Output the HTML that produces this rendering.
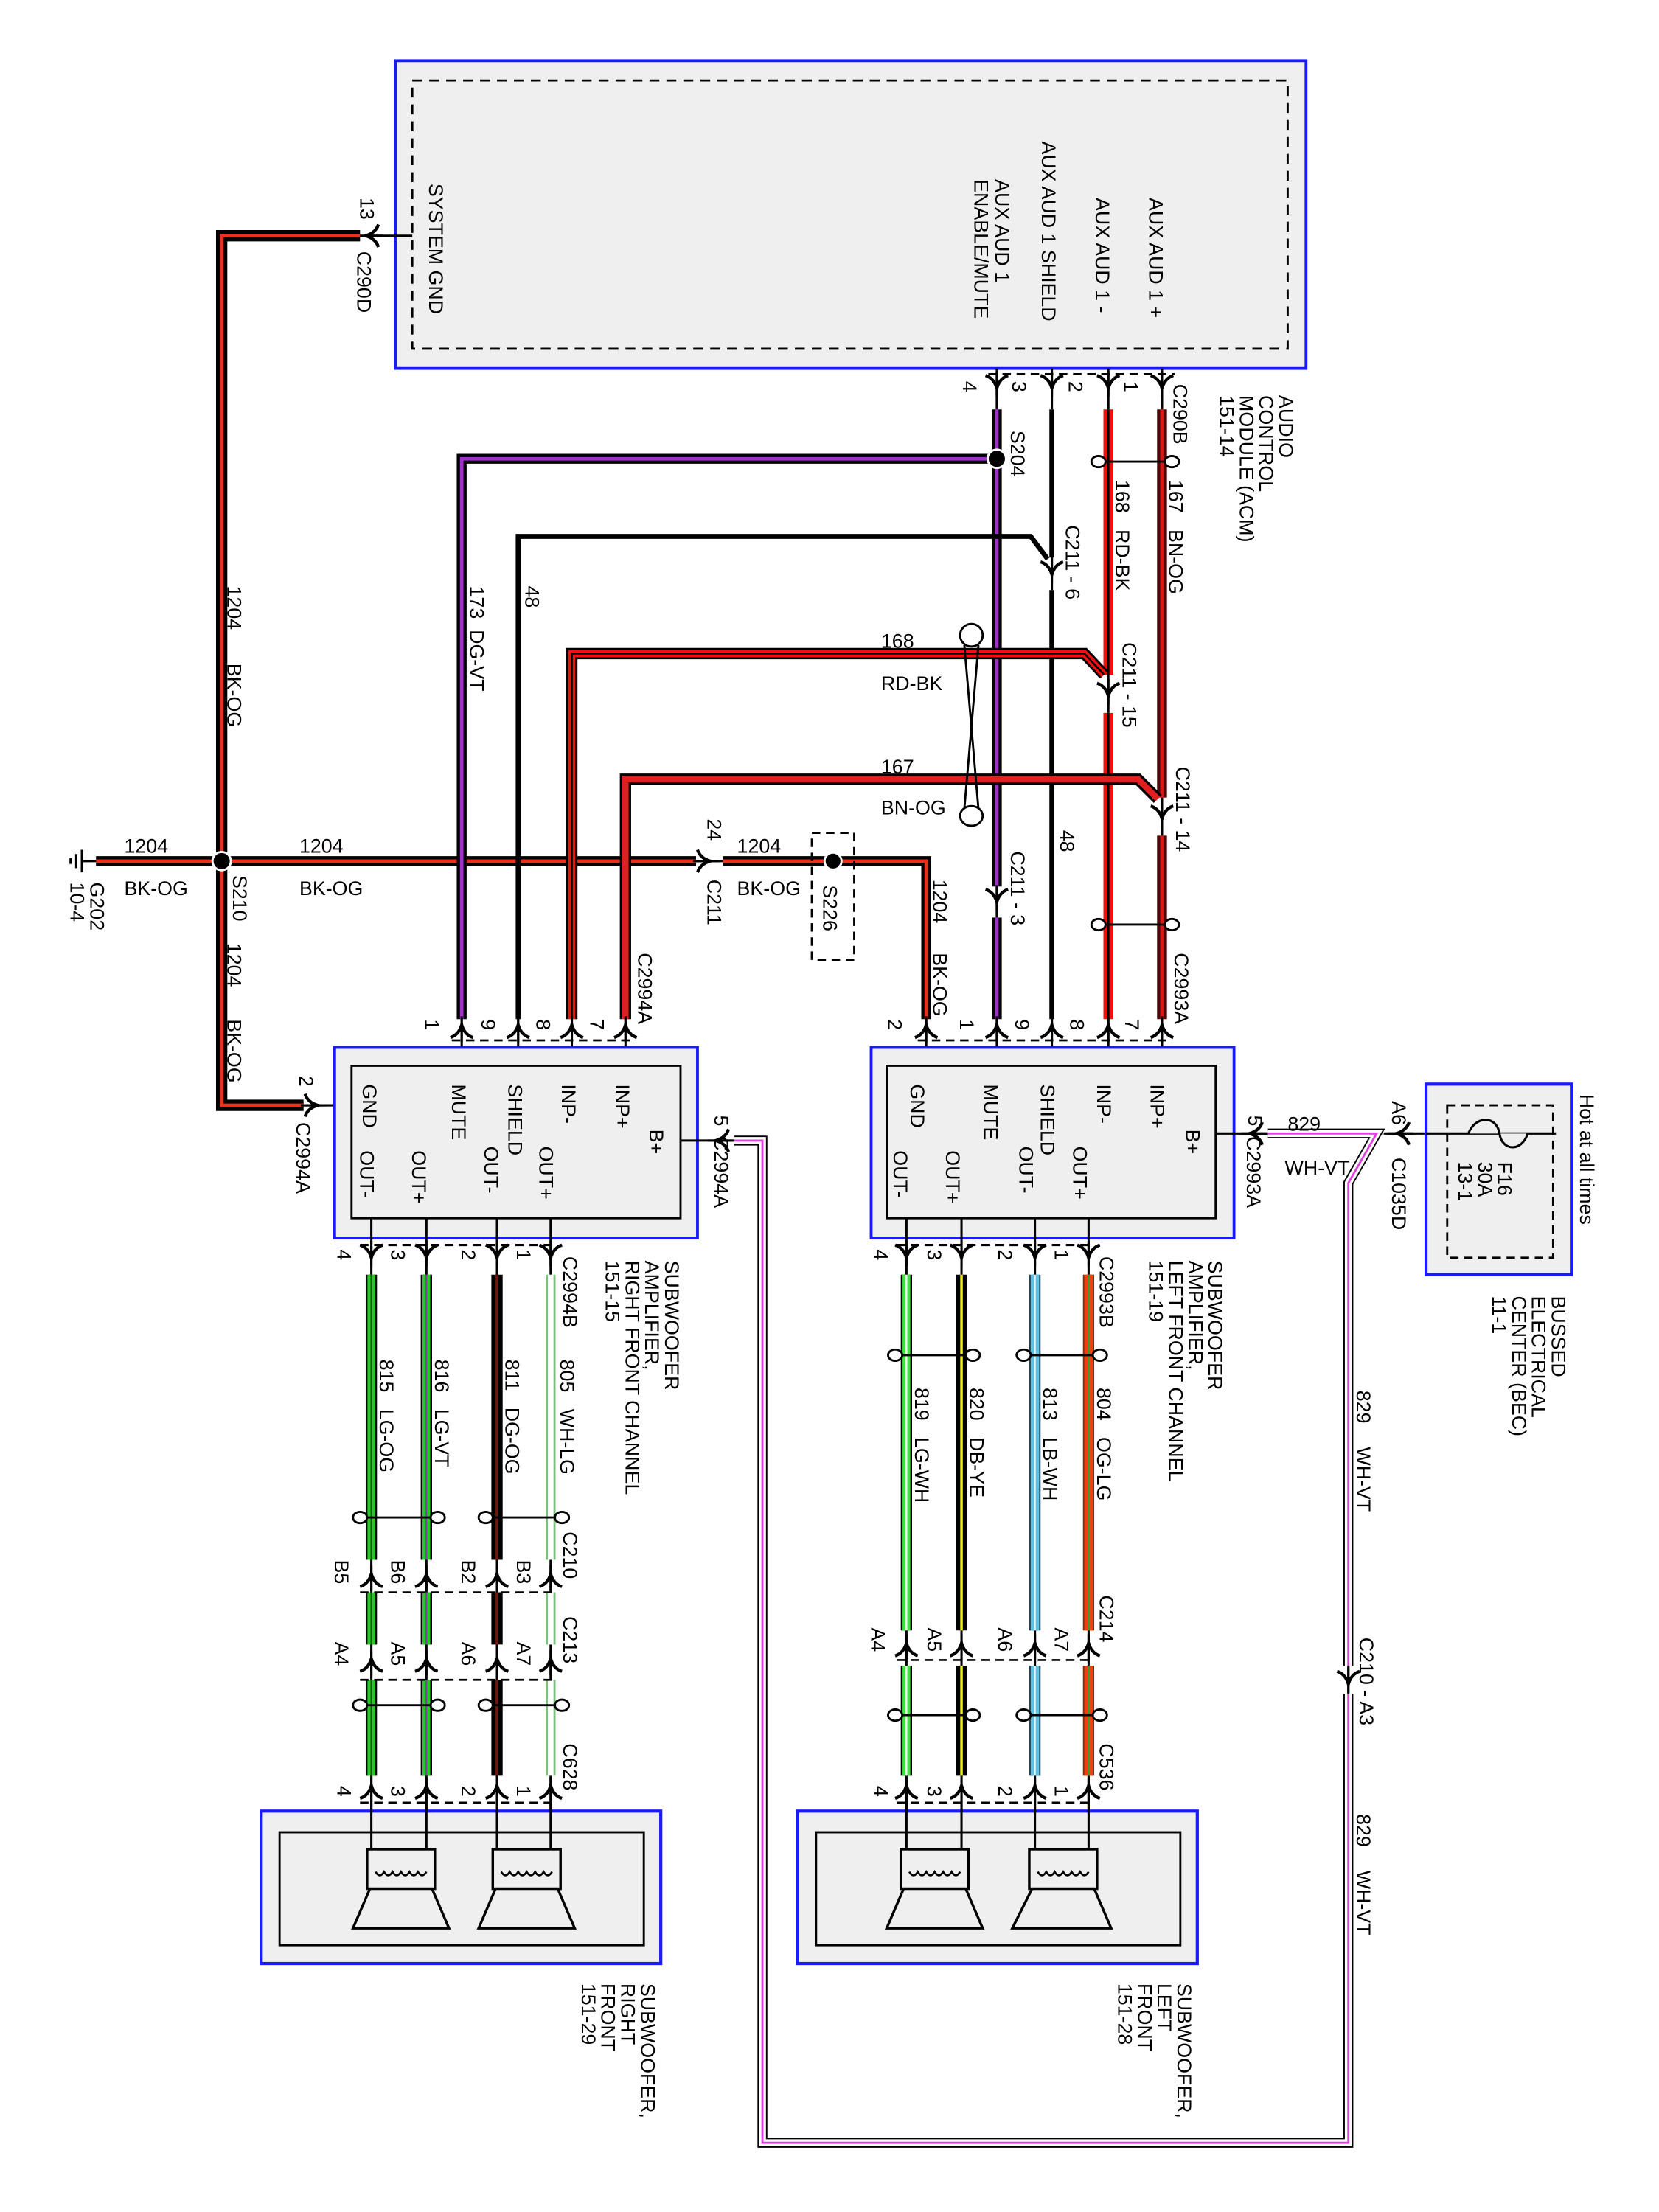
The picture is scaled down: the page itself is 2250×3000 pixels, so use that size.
<!DOCTYPE html>
<html><head><meta charset="utf-8"><style>
html,body{margin:0;padding:0;background:#fff}
svg{display:block}
text{font-family:"Liberation Sans",Arial,sans-serif;font-size:14px;fill:#000;white-space:pre}
</style></head><body>
<svg width="2250" height="3000" viewBox="0 0 1175 1567" preserveAspectRatio="none" xmlns="http://www.w3.org/2000/svg">
<defs>
<symbol id="cd" overflow="visible"><path d="M-8,-6 Q-2,-4 0,3 Q2,-4 8,-6" fill="none" stroke="#000" stroke-width="2.2"/><line x1="0" y1="-9" x2="0" y2="9" stroke="#000" stroke-width="1.6"/></symbol>
<symbol id="cu" overflow="visible"><path d="M-8,6 Q-2,4 0,-3 Q2,4 8,6" fill="none" stroke="#000" stroke-width="2.2"/><line x1="0" y1="-9" x2="0" y2="9" stroke="#000" stroke-width="1.6"/></symbol>
<symbol id="cl" overflow="visible"><path d="M6,-8 Q4,-2 -3,0 Q4,2 6,8" fill="none" stroke="#000" stroke-width="2.2"/><line x1="-9" y1="0" x2="9" y2="0" stroke="#000" stroke-width="1.6"/></symbol>
<symbol id="cr" overflow="visible"><path d="M-6,-8 Q-4,-2 3,0 Q-4,2 -6,8" fill="none" stroke="#000" stroke-width="2.2"/><line x1="-9" y1="0" x2="9" y2="0" stroke="#000" stroke-width="1.6"/></symbol>
</defs>

<!-- ACM -->
<rect x="280" y="43" width="645" height="218" fill="#efefef" stroke="#1a1aff" stroke-width="2"/>
<rect x="292" y="57" width="620" height="190" fill="none" stroke="#000" stroke-width="1.5" stroke-dasharray="7,5"/>
<g transform="translate(304,130) rotate(90)"><text>SYSTEM GND</text></g>
<g transform="translate(814,140) rotate(90)"><text>AUX AUD 1 +</text></g>
<g transform="translate(776,140) rotate(90)"><text>AUX AUD 1 -</text></g>
<g transform="translate(738,100) rotate(90)"><text>AUX AUD 1 SHIELD</text></g>
<g transform="translate(705,127) rotate(90)"><text>AUX AUD 1</text></g>
<g transform="translate(690,127) rotate(90)"><text>ENABLE/MUTE</text></g>
<g transform="translate(906,280) rotate(90)"><text>AUDIO</text></g>
<g transform="translate(892,280) rotate(90)"><text>CONTROL</text></g>
<g transform="translate(878,280) rotate(90)"><text>MODULE (ACM)</text></g>
<g transform="translate(864,280) rotate(90)"><text>151-14</text></g>

<line x1="262" y1="167" x2="292" y2="167" stroke="#000" stroke-width="1.6"/>
<use href="#cl" x="262" y="167"/>
<g transform="translate(255,140) rotate(90)"><text>13</text></g>
<g transform="translate(253,178) rotate(90)"><text>C290D</text></g>

<g fill="none" stroke-linejoin="miter">
<path d="M255,167 H157 V783 H215" stroke="#000" stroke-width="8"/>
<path d="M255,167 H157 V783 H215" stroke="#e8321e" stroke-width="2.5"/>
<path d="M68,610 H493" stroke="#000" stroke-width="7"/>
<path d="M68,610 H493" stroke="#e8321e" stroke-width="2.5"/>
<path d="M512,610 H656 V722" stroke="#000" stroke-width="7"/>
<path d="M512,610 H656 V722" stroke="#e8321e" stroke-width="2.5"/>
</g>
<line x1="493" y1="610" x2="512" y2="610" stroke="#000" stroke-width="1.6"/>
<use href="#cr" x="500" y="610"/>
<circle cx="157" cy="610" r="6.5" fill="#000" stroke="#fff" stroke-width="1.5"/>
<circle cx="590" cy="610" r="6" fill="#000" stroke="#fff" stroke-width="1.5"/>
<rect x="575" y="590" width="30" height="90" fill="none" stroke="#000" stroke-width="1.5" stroke-dasharray="6,4"/>
<line x1="58" y1="610" x2="68" y2="610" stroke="#000" stroke-width="1.6"/>
<line x1="58" y1="602" x2="58" y2="618" stroke="#000" stroke-width="1.6"/>
<line x1="54" y1="605" x2="54" y2="615" stroke="#000" stroke-width="1.6"/>
<line x1="50" y1="608" x2="50" y2="612" stroke="#000" stroke-width="1.6"/>
<g transform="translate(64,625) rotate(90)"><text>G202</text></g>
<g transform="translate(50,625) rotate(90)"><text>10-4</text></g>
<text x="88" y="604">1204</text><text x="88" y="634">BK-OG</text>
<text x="212" y="604">1204</text><text x="212" y="634">BK-OG</text>
<text x="522" y="604">1204</text><text x="522" y="634">BK-OG</text>
<g transform="translate(165,620) rotate(90)"><text>S210</text></g>
<g transform="translate(161,415) rotate(90)"><text>1204</text></g>
<g transform="translate(161,470) rotate(90)"><text>BK-OG</text></g>
<g transform="translate(161,668) rotate(90)"><text>1204</text></g>
<g transform="translate(161,722) rotate(90)"><text>BK-OG</text></g>
<g transform="translate(501,580) rotate(90)"><text>24</text></g>
<g transform="translate(501,623) rotate(90)"><text>C211</text></g>
<g transform="translate(583,627) rotate(90)"><text>S226</text></g>
<g transform="translate(661,623) rotate(90)"><text>1204</text></g>
<g transform="translate(661,675) rotate(90)"><text>BK-OG</text></g>

<line x1="700" y1="265" x2="832" y2="265" stroke="#000" stroke-width="1.4" stroke-dasharray="6,4"/>
<g stroke="#000" stroke-width="1.6"><line x1="706" y1="261" x2="706" y2="290"/><line x1="745" y1="261" x2="745" y2="290"/><line x1="785" y1="261" x2="785" y2="290"/><line x1="823" y1="261" x2="823" y2="290"/></g>
<use href="#cd" x="706" y="272"/><use href="#cd" x="745" y="272"/><use href="#cd" x="785" y="272"/><use href="#cd" x="823" y="272"/>
<g transform="translate(682,270) rotate(90)"><text>4</text></g>
<g transform="translate(717,270) rotate(90)"><text>3</text></g>
<g transform="translate(757,270) rotate(90)"><text>2</text></g>
<g transform="translate(796,270) rotate(90)"><text>1</text></g>
<g transform="translate(831,272) rotate(90)"><text>C290B</text></g>

<g fill="none">
<path d="M706,290 V722" stroke="#000" stroke-width="7"/>
<path d="M706,290 V722" stroke="#a030c8" stroke-width="2.5"/>
<path d="M700,325 H327 V722" stroke="#000" stroke-width="7"/>
<path d="M700,325 H327 V722" stroke="#a030c8" stroke-width="2.5"/>
</g>
<circle cx="706" cy="325" r="6.5" fill="#000" stroke="#fff" stroke-width="1.5"/>
<g transform="translate(716,305) rotate(90)"><text>S204</text></g>
<g transform="translate(333,415) rotate(90)"><text>173  DG-VT</text></g>
<rect x="700" y="628" width="12" height="22" fill="#fff"/>
<line x1="706" y1="628" x2="706" y2="650" stroke="#000" stroke-width="1.6"/>
<use href="#cd" x="706" y="636"/>
<g transform="translate(716,603) rotate(90)"><text>C211 - 3</text></g>

<g fill="none" stroke="#000" stroke-width="3.5">
<path d="M745,290 V395"/><path d="M745,418 V722"/>
<path d="M742,396 L730,380 H367 V722"/>
</g>
<line x1="745" y1="395" x2="745" y2="418" stroke="#000" stroke-width="1.6"/>
<use href="#cd" x="745" y="404"/>
<g transform="translate(755,372) rotate(90)"><text>C211 - 6</text></g>
<g transform="translate(751,588) rotate(90)"><text>48</text></g>
<g transform="translate(372,415) rotate(90)"><text>48</text></g>

<g fill="none">
<path d="M785,290 V478" stroke="#f01010" stroke-width="7"/>
<path d="M785,290 V478" stroke="#000" stroke-width="1.5"/>
<path d="M785,505 V722" stroke="#f01010" stroke-width="7"/>
<path d="M785,505 V722" stroke="#000" stroke-width="1.5"/>
<path d="M782,478 L768,463 H405 V722" stroke="#000" stroke-width="8"/>
<path d="M782,478 L768,463 H405 V722" stroke="#f01010" stroke-width="5"/>
<path d="M782,478 L768,463 H405 V722" stroke="#000" stroke-width="1.3"/>
</g>
<line x1="785" y1="478" x2="785" y2="505" stroke="#000" stroke-width="1.6"/>
<use href="#cd" x="785" y="490"/>
<g transform="translate(795,455) rotate(90)"><text>C211 - 15</text></g>
<g transform="translate(790,340) rotate(90)"><text>168   RD-BK</text></g>
<text x="624" y="459">168</text><text x="624" y="489">RD-BK</text>

<g fill="none">
<path d="M823,290 V565" stroke="#4a0808" stroke-width="7"/>
<path d="M823,290 V565" stroke="#d81818" stroke-width="2.5"/>
<path d="M823,592 V722" stroke="#4a0808" stroke-width="7"/>
<path d="M823,592 V722" stroke="#d81818" stroke-width="2.5"/>
<path d="M820,566 L806,552 H443 V722" stroke="#000" stroke-width="8"/>
<path d="M820,566 L806,552 H443 V722" stroke="#e02020" stroke-width="4.5"/>
</g>
<line x1="823" y1="565" x2="823" y2="592" stroke="#000" stroke-width="1.6"/>
<use href="#cd" x="823" y="577"/>
<g transform="translate(833,543) rotate(90)"><text>C211 - 14</text></g>
<g transform="translate(828,340) rotate(90)"><text>167   BN-OG</text></g>
<text x="624" y="548">167</text><text x="624" y="577">BN-OG</text>

<g fill="#fff" stroke="#000" stroke-width="1.5">
<line x1="780" y1="327" x2="828" y2="327"/><ellipse cx="778" cy="327" rx="5" ry="4"/><ellipse cx="830" cy="327" rx="5" ry="4"/>
<line x1="780" y1="655" x2="828" y2="655"/><ellipse cx="778" cy="655" rx="5" ry="4"/><ellipse cx="830" cy="655" rx="5" ry="4"/>
<path d="M683,457 L693,573 M693,457 L683,573" fill="none"/>
<ellipse cx="688" cy="450" rx="8" ry="8"/><ellipse cx="688" cy="578" rx="8" ry="7"/>
</g>

<line x1="320" y1="737" x2="450" y2="737" stroke="#000" stroke-width="1.4" stroke-dasharray="6,4"/>
<g stroke="#000" stroke-width="1.6"><line x1="327" y1="722" x2="327" y2="755"/><line x1="367" y1="722" x2="367" y2="755"/><line x1="405" y1="722" x2="405" y2="755"/><line x1="443" y1="722" x2="443" y2="755"/></g>
<use href="#cu" x="327" y="729"/><use href="#cu" x="367" y="729"/><use href="#cu" x="405" y="729"/><use href="#cu" x="443" y="729"/>
<g transform="translate(301,722) rotate(90)"><text>1</text></g>
<g transform="translate(341,722) rotate(90)"><text>9</text></g>
<g transform="translate(380,722) rotate(90)"><text>8</text></g>
<g transform="translate(418,722) rotate(90)"><text>7</text></g>
<g transform="translate(452,675) rotate(90)"><text>C2994A</text></g>
<line x1="650" y1="737" x2="830" y2="737" stroke="#000" stroke-width="1.4" stroke-dasharray="6,4"/>
<g stroke="#000" stroke-width="1.6"><line x1="656" y1="722" x2="656" y2="755"/><line x1="706" y1="722" x2="706" y2="755"/><line x1="745" y1="722" x2="745" y2="755"/><line x1="785" y1="722" x2="785" y2="755"/><line x1="823" y1="722" x2="823" y2="755"/></g>
<use href="#cu" x="656" y="729"/><use href="#cu" x="706" y="729"/><use href="#cu" x="745" y="729"/><use href="#cu" x="785" y="729"/><use href="#cu" x="823" y="729"/>
<g transform="translate(629,722) rotate(90)"><text>2</text></g>
<g transform="translate(680,722) rotate(90)"><text>1</text></g>
<g transform="translate(719,722) rotate(90)"><text>9</text></g>
<g transform="translate(758,722) rotate(90)"><text>8</text></g>
<g transform="translate(797,722) rotate(90)"><text>7</text></g>
<g transform="translate(832,675) rotate(90)"><text>C2993A</text></g>

<line x1="215" y1="783" x2="249" y2="783" stroke="#000" stroke-width="1.6"/>
<use href="#cr" x="222" y="783"/>
<g transform="translate(212,762) rotate(90)"><text>2</text></g>
<g transform="translate(210,795) rotate(90)"><text>C2994A</text></g>

<rect x="237" y="742" width="257" height="135" fill="#efefef" stroke="#1a1aff" stroke-width="2"/>
<rect x="249" y="755" width="233" height="108" fill="#efefef" stroke="#000" stroke-width="1.5"/>
<g transform="translate(257,768) rotate(90)"><text>GND</text></g>
<g transform="translate(320,768) rotate(90)"><text>MUTE</text></g>
<g transform="translate(360,768) rotate(90)"><text>SHIELD</text></g>
<g transform="translate(398,768) rotate(90)"><text>INP-</text></g>
<g transform="translate(436,768) rotate(90)"><text>INP+</text></g>
<g transform="translate(460,800) rotate(90)"><text>B+</text></g>
<g transform="translate(255,815) rotate(90)"><text>OUT-</text></g>
<g transform="translate(292,815) rotate(90)"><text>OUT+</text></g>
<g transform="translate(343,812) rotate(90)"><text>OUT-</text></g>
<g transform="translate(382,812) rotate(90)"><text>OUT+</text></g>
<line x1="482" y1="808" x2="520" y2="808" stroke="#000" stroke-width="1.6"/>
<use href="#cl" x="510" y="808"/>
<g transform="translate(506,790) rotate(90)"><text>5</text></g>
<g transform="translate(506,805) rotate(90)"><text>C2994A</text></g>

<rect x="617" y="742" width="257" height="135" fill="#efefef" stroke="#1a1aff" stroke-width="2"/>
<rect x="628" y="755" width="233" height="108" fill="#efefef" stroke="#000" stroke-width="1.5"/>
<g transform="translate(645,768) rotate(90)"><text>GND</text></g>
<g transform="translate(697,768) rotate(90)"><text>MUTE</text></g>
<g transform="translate(737,768) rotate(90)"><text>SHIELD</text></g>
<g transform="translate(777,768) rotate(90)"><text>INP-</text></g>
<g transform="translate(815,768) rotate(90)"><text>INP+</text></g>
<g transform="translate(840,800) rotate(90)"><text>B+</text></g>
<g transform="translate(633,815) rotate(90)"><text>OUT-</text></g>
<g transform="translate(670,815) rotate(90)"><text>OUT+</text></g>
<g transform="translate(722,812) rotate(90)"><text>OUT-</text></g>
<g transform="translate(760,812) rotate(90)"><text>OUT+</text></g>
<line x1="861" y1="803" x2="898" y2="803" stroke="#000" stroke-width="1.6"/>
<use href="#cl" x="888" y="803"/>
<g transform="translate(884,790) rotate(90)"><text>5</text></g>
<g transform="translate(883,805) rotate(90)"><text>C2993A</text></g>

<g fill="none">
<path d="M898,803 H975 L955,838 V1518 H540 V808 H520" stroke="#000" stroke-width="7"/>
<path d="M898,803 H975 L955,838 V1518 H540 V808 H520" stroke="#fff" stroke-width="5"/>
<path d="M898,803 H975 L955,838 V1518 H540 V808 H520" stroke="#e040e0" stroke-width="1.5"/>
</g>
<rect x="948" y="1180" width="14" height="20" fill="#fff"/>
<line x1="955" y1="1180" x2="955" y2="1200" stroke="#000" stroke-width="1.6"/>
<use href="#cd" x="955" y="1190"/>
<text x="912" y="801">829</text><text x="910" y="832">WH-VT</text>
<g transform="translate(961,985) rotate(90)"><text>829</text></g>
<g transform="translate(961,1025) rotate(90)"><text>WH-VT</text></g>
<g transform="translate(963,1160) rotate(90)"><text>C210 - A3</text></g>
<g transform="translate(961,1285) rotate(90)"><text>829</text></g>
<g transform="translate(961,1325) rotate(90)"><text>WH-VT</text></g>

<line x1="980" y1="803" x2="1010" y2="803" stroke="#000" stroke-width="1.6"/>
<use href="#cl" x="992" y="803"/>
<g transform="translate(986,780) rotate(90)"><text>A6</text></g>
<g transform="translate(986,820) rotate(90)"><text>C1035D</text></g>
<rect x="1010" y="768" width="103" height="135" fill="#efefef" stroke="#1a1aff" stroke-width="2.2"/>
<rect x="1025" y="783" width="75" height="108" fill="none" stroke="#000" stroke-width="1.5" stroke-dasharray="6,4"/>
<line x1="1010" y1="803" x2="1102" y2="803" stroke="#000" stroke-width="1.6"/>
<path d="M1040,803 C1045,790 1060,790 1062,803 C1064,816 1078,816 1082,803" fill="#efefef" stroke="#000" stroke-width="1.6"/>
<g transform="translate(1061,823) rotate(90)"><text>F16</text></g>
<g transform="translate(1047,823) rotate(90)"><text>30A</text></g>
<g transform="translate(1033,823) rotate(90)"><text>13-1</text></g>
<g transform="translate(1119,775) rotate(90)"><text>Hot at all times</text></g>
<g transform="translate(1099,918) rotate(90)"><text>BUSSED</text></g>
<g transform="translate(1085,918) rotate(90)"><text>ELECTRICAL</text></g>
<g transform="translate(1071,918) rotate(90)"><text>CENTER (BEC)</text></g>
<g transform="translate(1057,918) rotate(90)"><text>11-1</text></g>

<line x1="255" y1="882" x2="395" y2="882" stroke="#000" stroke-width="1.6" stroke-dasharray="6,4"/>
<g stroke="#000" stroke-width="1.6">
<line x1="263" y1="863" x2="263" y2="1300"/><line x1="302" y1="863" x2="302" y2="1300"/><line x1="352" y1="863" x2="352" y2="1300"/><line x1="390" y1="863" x2="390" y2="1300"/>
<line x1="642" y1="863" x2="642" y2="1300"/><line x1="681" y1="863" x2="681" y2="1300"/><line x1="733" y1="863" x2="733" y2="1300"/><line x1="771" y1="863" x2="771" y2="1300"/>
</g>
<g fill="none">
<path d="M263,903 V1105 M263,1128 V1165 M263,1190 V1258" stroke="#000" stroke-width="8"/>
<path d="M263,903 V1105 M263,1128 V1165 M263,1190 V1258" stroke="#22cc22" stroke-width="5.5"/>
<path d="M263,903 V1105 M263,1128 V1165 M263,1190 V1258" stroke="#1a5a10" stroke-width="1.2"/>
<path d="M302,903 V1105 M302,1128 V1165 M302,1190 V1258" stroke="#000" stroke-width="8"/>
<path d="M302,903 V1105 M302,1128 V1165 M302,1190 V1258" stroke="#22cc22" stroke-width="5.5"/>
<path d="M302,903 V1105 M302,1128 V1165 M302,1190 V1258" stroke="#8040a0" stroke-width="1.2"/>
<path d="M352,903 V1105 M352,1128 V1165 M352,1190 V1258" stroke="#000" stroke-width="8"/>
<path d="M352,903 V1105 M352,1128 V1165 M352,1190 V1258" stroke="#6a1a10" stroke-width="2"/>
<path d="M390,903 V1105 M390,1128 V1165 M390,1190 V1258" stroke="#7ac07a" stroke-width="7"/>
<path d="M390,903 V1105 M390,1128 V1165 M390,1190 V1258" stroke="#fff" stroke-width="4"/>
<path d="M642,903 V1155 M642,1180 V1258" stroke="#000" stroke-width="8"/>
<path d="M642,903 V1155 M642,1180 V1258" stroke="#40e040" stroke-width="5.5"/>
<path d="M642,903 V1155 M642,1180 V1258" stroke="#fff" stroke-width="1.2"/>
<path d="M681,903 V1155 M681,1180 V1258" stroke="#000" stroke-width="8"/>
<path d="M681,903 V1155 M681,1180 V1258" stroke="#f0f020" stroke-width="1.8"/>
<path d="M733,903 V1155 M733,1180 V1258" stroke="#204050" stroke-width="8"/>
<path d="M733,903 V1155 M733,1180 V1258" stroke="#60c0e0" stroke-width="6"/>
<path d="M733,903 V1155 M733,1180 V1258" stroke="#e0f4ff" stroke-width="1.2"/>
<path d="M771,903 V1155 M771,1180 V1258" stroke="#803010" stroke-width="8"/>
<path d="M771,903 V1155 M771,1180 V1258" stroke="#f04010" stroke-width="6"/>
<path d="M771,903 V1155 M771,1180 V1258" stroke="#30a030" stroke-width="1.3"/>
</g>
<use href="#cd" x="263" y="888"/><use href="#cd" x="302" y="888"/><use href="#cd" x="352" y="888"/><use href="#cd" x="390" y="888"/>
<use href="#cu" x="263" y="1118"/><use href="#cu" x="302" y="1118"/><use href="#cu" x="352" y="1118"/><use href="#cu" x="390" y="1118"/>
<use href="#cu" x="263" y="1178"/><use href="#cu" x="302" y="1178"/><use href="#cu" x="352" y="1178"/><use href="#cu" x="390" y="1178"/>
<use href="#cu" x="263" y="1268"/><use href="#cu" x="302" y="1268"/><use href="#cu" x="352" y="1268"/><use href="#cu" x="390" y="1268"/>
<line x1="255" y1="1128" x2="395" y2="1128" stroke="#000" stroke-width="1.4" stroke-dasharray="6,4"/>
<line x1="255" y1="1190" x2="395" y2="1190" stroke="#000" stroke-width="1.4" stroke-dasharray="6,4"/>
<line x1="255" y1="1277" x2="395" y2="1277" stroke="#000" stroke-width="1.4" stroke-dasharray="6,4"/>
<use href="#cd" x="642" y="888"/><use href="#cd" x="681" y="888"/><use href="#cd" x="733" y="888"/><use href="#cd" x="771" y="888"/>
<use href="#cu" x="642" y="1167"/><use href="#cu" x="681" y="1167"/><use href="#cu" x="733" y="1167"/><use href="#cu" x="771" y="1167"/>
<use href="#cu" x="642" y="1268"/><use href="#cu" x="681" y="1268"/><use href="#cu" x="733" y="1268"/><use href="#cu" x="771" y="1268"/>
<line x1="635" y1="882" x2="775" y2="882" stroke="#000" stroke-width="1.6" stroke-dasharray="6,4"/>
<line x1="635" y1="1176" x2="775" y2="1176" stroke="#000" stroke-width="1.4" stroke-dasharray="6,4"/>
<line x1="635" y1="1277" x2="775" y2="1277" stroke="#000" stroke-width="1.4" stroke-dasharray="6,4"/>
<g fill="#fff" stroke="#000" stroke-width="1.5">
<line x1="258" y1="1075" x2="307" y2="1075"/><ellipse cx="255" cy="1075" rx="5" ry="4"/><ellipse cx="310" cy="1075" rx="5" ry="4"/>
<line x1="347" y1="1075" x2="395" y2="1075"/><ellipse cx="344" cy="1075" rx="5" ry="4"/><ellipse cx="398" cy="1075" rx="5" ry="4"/>
<line x1="258" y1="1208" x2="307" y2="1208"/><ellipse cx="255" cy="1208" rx="5" ry="4"/><ellipse cx="310" cy="1208" rx="5" ry="4"/>
<line x1="347" y1="1208" x2="395" y2="1208"/><ellipse cx="344" cy="1208" rx="5" ry="4"/><ellipse cx="398" cy="1208" rx="5" ry="4"/>
<line x1="637" y1="960" x2="686" y2="960"/><ellipse cx="634" cy="960" rx="5" ry="4"/><ellipse cx="689" cy="960" rx="5" ry="4"/>
<line x1="728" y1="960" x2="776" y2="960"/><ellipse cx="725" cy="960" rx="5" ry="4"/><ellipse cx="779" cy="960" rx="5" ry="4"/>
<line x1="637" y1="1215" x2="686" y2="1215"/><ellipse cx="634" cy="1215" rx="5" ry="4"/><ellipse cx="689" cy="1215" rx="5" ry="4"/>
<line x1="728" y1="1215" x2="776" y2="1215"/><ellipse cx="725" cy="1215" rx="5" ry="4"/><ellipse cx="779" cy="1215" rx="5" ry="4"/>
</g>
<g transform="translate(239,885) rotate(90)"><text>4</text></g>
<g transform="translate(277,885) rotate(90)"><text>3</text></g>
<g transform="translate(327,885) rotate(90)"><text>2</text></g>
<g transform="translate(366,885) rotate(90)"><text>1</text></g>
<g transform="translate(399,890) rotate(90)"><text>C2994B</text></g>
<g transform="translate(471,893) rotate(90)"><text>SUBWOOFER</text></g>
<g transform="translate(457,893) rotate(90)"><text>AMPLIFIER,</text></g>
<g transform="translate(443,893) rotate(90)"><text>RIGHT FRONT CHANNEL</text></g>
<g transform="translate(429,893) rotate(90)"><text>151-15</text></g>
<g transform="translate(269,963) rotate(90)"><text>815   LG-OG</text></g>
<g transform="translate(308,963) rotate(90)"><text>816   LG-VT</text></g>
<g transform="translate(358,963) rotate(90)"><text>811   DG-OG</text></g>
<g transform="translate(397,963) rotate(90)"><text>805   WH-LG</text></g>
<g transform="translate(399,1085) rotate(90)"><text>C210</text></g>
<g transform="translate(237,1105) rotate(90)"><text>B5</text></g>
<g transform="translate(277,1105) rotate(90)"><text>B6</text></g>
<g transform="translate(327,1105) rotate(90)"><text>B2</text></g>
<g transform="translate(366,1105) rotate(90)"><text>B3</text></g>
<g transform="translate(399,1145) rotate(90)"><text>C213</text></g>
<g transform="translate(237,1163) rotate(90)"><text>A4</text></g>
<g transform="translate(277,1163) rotate(90)"><text>A5</text></g>
<g transform="translate(327,1163) rotate(90)"><text>A6</text></g>
<g transform="translate(366,1163) rotate(90)"><text>A7</text></g>
<g transform="translate(399,1235) rotate(90)"><text>C628</text></g>
<g transform="translate(239,1265) rotate(90)"><text>4</text></g>
<g transform="translate(277,1265) rotate(90)"><text>3</text></g>
<g transform="translate(327,1265) rotate(90)"><text>2</text></g>
<g transform="translate(366,1265) rotate(90)"><text>1</text></g>
<g transform="translate(619,885) rotate(90)"><text>4</text></g>
<g transform="translate(657,885) rotate(90)"><text>3</text></g>
<g transform="translate(707,885) rotate(90)"><text>2</text></g>
<g transform="translate(747,885) rotate(90)"><text>1</text></g>
<g transform="translate(779,890) rotate(90)"><text>C2993B</text></g>
<g transform="translate(856,893) rotate(90)"><text>SUBWOOFER</text></g>
<g transform="translate(842,893) rotate(90)"><text>AMPLIFIER,</text></g>
<g transform="translate(828,893) rotate(90)"><text>LEFT FRONT CHANNEL</text></g>
<g transform="translate(814,893) rotate(90)"><text>151-19</text></g>
<g transform="translate(648,983) rotate(90)"><text>819   LG-WH</text></g>
<g transform="translate(687,983) rotate(90)"><text>820   DB-YE</text></g>
<g transform="translate(739,983) rotate(90)"><text>813   LB-WH</text></g>
<g transform="translate(777,983) rotate(90)"><text>804   OG-LG</text></g>
<g transform="translate(779,1130) rotate(90)"><text>C214</text></g>
<g transform="translate(617,1153) rotate(90)"><text>A4</text></g>
<g transform="translate(657,1153) rotate(90)"><text>A5</text></g>
<g transform="translate(707,1153) rotate(90)"><text>A6</text></g>
<g transform="translate(747,1153) rotate(90)"><text>A7</text></g>
<g transform="translate(779,1235) rotate(90)"><text>C536</text></g>
<g transform="translate(619,1265) rotate(90)"><text>4</text></g>
<g transform="translate(657,1265) rotate(90)"><text>3</text></g>
<g transform="translate(707,1265) rotate(90)"><text>2</text></g>
<g transform="translate(747,1265) rotate(90)"><text>1</text></g>

<rect x="185" y="1283" width="283" height="108" fill="#efefef" stroke="#1a1aff" stroke-width="2.2"/>
<rect x="198" y="1298" width="258" height="80" fill="#efefef" stroke="#000" stroke-width="1.5"/>
<rect x="565" y="1283" width="283" height="108" fill="#efefef" stroke="#1a1aff" stroke-width="2.2"/>
<rect x="578" y="1298" width="258" height="80" fill="#efefef" stroke="#000" stroke-width="1.5"/>
<g stroke="#000" stroke-width="1.6" fill="none">
<path d="M263,1277 V1318 M302,1277 V1318 M352,1277 V1318 M390,1277 V1318"/>
<path d="M642,1277 V1318 M681,1277 V1318 M733,1277 V1318 M771,1277 V1318"/>
</g>
<g fill="#efefef" stroke="#000" stroke-width="1.8">
<rect x="260" y="1310" width="48" height="28"/><path d="M262,1338 H306 L318,1366 H250 Z"/>
<rect x="349" y="1310" width="48" height="28"/><path d="M351,1338 H395 L407,1366 H339 Z"/>
<rect x="638" y="1310" width="48" height="28"/><path d="M640,1338 H684 L696,1366 H628 Z"/>
<rect x="729" y="1310" width="48" height="28"/><path d="M731,1338 H775 L787,1366 H717 Z"/>
</g>
<g fill="none" stroke="#000" stroke-width="1.4">
<path d="M266,1326 q3,5 6,0 q3,5 6,0 q3,5 6,0 q3,5 6,0 q3,5 6,0 q3,5 6,0"/>
<path d="M355,1326 q3,5 6,0 q3,5 6,0 q3,5 6,0 q3,5 6,0 q3,5 6,0 q3,5 6,0"/>
<path d="M644,1326 q3,5 6,0 q3,5 6,0 q3,5 6,0 q3,5 6,0 q3,5 6,0 q3,5 6,0"/>
<path d="M735,1326 q3,5 6,0 q3,5 6,0 q3,5 6,0 q3,5 6,0 q3,5 6,0 q3,5 6,0"/>
</g>
<g transform="translate(454,1405) rotate(90)"><text>SUBWOOFER,</text></g>
<g transform="translate(440,1405) rotate(90)"><text>RIGHT</text></g>
<g transform="translate(426,1405) rotate(90)"><text>FRONT</text></g>
<g transform="translate(412,1405) rotate(90)"><text>151-29</text></g>
<g transform="translate(834,1405) rotate(90)"><text>SUBWOOFER,</text></g>
<g transform="translate(820,1405) rotate(90)"><text>LEFT</text></g>
<g transform="translate(806,1405) rotate(90)"><text>FRONT</text></g>
<g transform="translate(792,1405) rotate(90)"><text>151-28</text></g>
</svg>
</body></html>
